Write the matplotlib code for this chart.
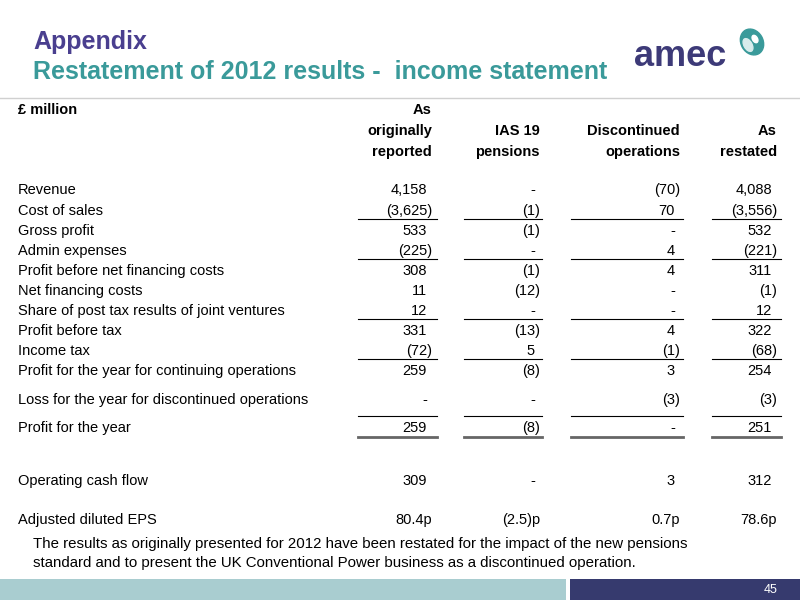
import matplotlib
matplotlib.use("Agg")
import matplotlib.pyplot as plt
from matplotlib.patches import Rectangle, Ellipse

plt.rcParams['font.family'] = ['Liberation Sans', 'DejaVu Sans']

columns = ["As\noriginally\nreported", "IAS 19\npensions", "Discontinued\noperations", "As\nrestated"]
row_labels = ["Revenue", "Cost of sales", "Gross profit", "Admin expenses",
              "Profit before net financing costs", "Net financing costs",
              "Share of post tax results of joint ventures", "Profit before tax",
              "Income tax", "Profit for the year for continuing operations",
              "Loss for the year for discontinued operations", "Profit for the year",
              "Operating cash flow", "Adjusted diluted EPS"]
original = ["4,158", "(3,625)", "533", "(225)", "308", "11", "12", "331", "(72)", "259", "-", "259", "309", "80.4p"]
ias19 = ["-", "(1)", "(1)", "-", "(1)", "(12)", "-", "(13)", "5", "(8)", "-", "(8)", "-", "(2.5)p"]
discontinued = ["(70)", "70", "-", "4", "4", "-", "-", "4", "(1)", "3", "(3)", "-", "3", "0.7p"]
restated = ["4,088", "(3,556)", "532", "(221)", "311", "(1)", "12", "322", "(68)", "254", "(3)", "251", "312", "78.6p"]

row_y = [190, 211, 231, 251, 271, 291, 311, 331, 351, 371, 400, 428, 481, 520]
col_right = [432, 540, 680, 777]
col_seg = [(358, 437), (464, 542), (571, 683), (712, 781)]
line_y = [219, 259, 319, 359, 416]
double_y = 437

fig = plt.figure(figsize=(8, 6), dpi=100)
ax = fig.add_axes([0, 0, 1, 1])
ax.set_xlim(0, 800); ax.set_ylim(600, 0); ax.axis('off')

purple = '#3d3a78'; teal = '#3a9a9a'
ax.text(33, 42, "Appendix", color='#4a3f8f', fontsize=18, fontweight='bold', va='center')
ax.text(33, 72, "Restatement of 2012 results -  income statement", color=teal, fontsize=18, fontweight='bold', va='center')
ax.plot([0, 800], [98, 98], color='#d0d0d0', lw=1)

# logo
ax.text(634, 57, "amec", color=purple, fontsize=26, fontweight='bold', va='center', ha='left')
ax.add_patch(Ellipse((752, 42), 22, 27, angle=-30, color='#3a9a9a'))
ax.add_patch(Ellipse((748, 45), 8, 14, angle=-30, color='#d8ecec'))
ax.add_patch(Ellipse((755, 39), 5, 8, angle=-30, color='white'))

fs = 10.5
ax.text(18, 110, "£ million", fontsize=fs, fontweight='bold', va='center')
for c, x in zip(columns, col_right):
    lines = c.split("\n")
    for i, l in enumerate(reversed(lines)):
        ax.text(x, 152 - 21 * i, l, fontsize=fs, fontweight='bold', ha='right', va='center')

for lab, y in zip(row_labels, row_y):
    ax.text(18, y, lab, fontsize=fs, va='center')
for vals, x in zip([original, ias19, discontinued, restated], col_right):
    for v, y in zip(vals, row_y):
        off = 0 if (v.endswith(")") or v.endswith("p")) else 5
        ax.text(x - off, y, v, fontsize=fs, ha='right', va='center')

for (a, b) in col_seg:
    for y in line_y:
        ax.plot([a, b], [y, y], color='black', lw=0.8)
    ax.plot([a, b], [double_y, double_y], color='#666666', lw=2)

ax.text(33, 544, "The results as originally presented for 2012 have been restated for the impact of the new pensions", fontsize=10.8, va='center')
ax.text(33, 563, "standard and to present the UK Conventional Power business as a discontinued operation.", fontsize=10.8, va='center')

ax.add_patch(Rectangle((0, 579), 566, 21, color='#a9cdd0', lw=0))
ax.add_patch(Rectangle((570, 579), 230, 21, color='#363a6e', lw=0))
ax.text(778, 590, "45", color='white', fontsize=9, ha='right', va='center')

fig.savefig("out.png", dpi=100)
